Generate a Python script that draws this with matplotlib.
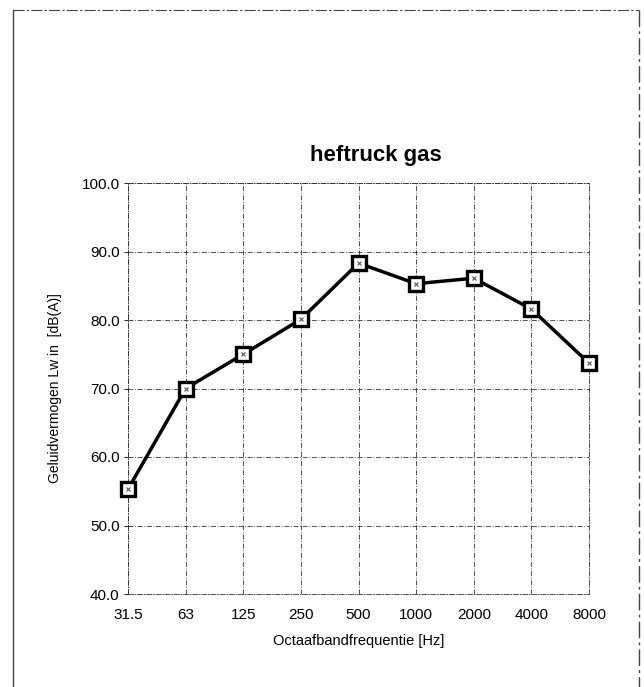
import matplotlib
matplotlib.use("Agg")
import matplotlib.pyplot as plt
from matplotlib.lines import Line2D

# octave band data
freqs = ["31.5", "63", "125", "250", "500", "1000", "2000", "4000", "8000"]
levels = [55.3, 70.0, 75.0, 80.1, 88.3, 85.3, 86.1, 81.6, 73.7]
yticks = [40, 50, 60, 70, 80, 90, 100]

plt.rcParams['font.family'] = ['Liberation Sans', 'DejaVu Sans']

fig = plt.figure(figsize=(6.44, 6.87), dpi=100)
ax = fig.add_axes([128/644, 1-594/687, 461/644, 411/687])

x = list(range(len(freqs)))
ax.plot(x, levels, color='black', linewidth=2.5, marker='s', markersize=10.5,
        markerfacecolor='white', markeredgecolor='black', markeredgewidth=2.4,
        zorder=3, clip_on=False)
ax.plot(x, levels, linestyle='none', marker='x', markersize=3,
        color='#555555', markeredgewidth=0.8, zorder=4, clip_on=False)

ax.set_xlim(0, len(freqs) - 1)
ax.set_ylim(40, 100)
ax.set_xticks(x)
ax.set_xticklabels(freqs, fontsize=11)
ax.set_yticks(yticks)
ax.set_yticklabels(["%.1f" % v for v in yticks], fontsize=11)
ax.tick_params(axis='x', length=0, pad=10)
ax.tick_params(axis='y', length=3, width=0.6, pad=3)

ax.grid(True, color='#333333', linestyle=(0, (6, 2, 1, 2)), linewidth=0.6)
for s in ax.spines.values():
    s.set_color('#333333')
    s.set_linewidth(0.6)
    s.set_linestyle((0, (6, 2, 1, 2)))

ax.set_xlabel("Octaafbandfrequentie [Hz]", fontsize=10.5, labelpad=9)
ax.set_ylabel("Geluidvermogen Lw in  [dB(A)]", fontsize=10, labelpad=14)

fig.text(376/644, 1-155/687, "heftruck gas", fontsize=16, fontweight='bold',
         ha='center', va='center')

# page frame
bx0, bx1, by = 13/644, 639/644, 1-10/687
fig.add_artist(Line2D([bx0, bx1], [by, by], color='#444444', linewidth=0.8,
                      linestyle=(0, (10, 2, 2, 2))))
fig.add_artist(Line2D([bx0, bx0], [by, 0], color='#444444', linewidth=1.0))
fig.add_artist(Line2D([bx1, bx1], [by, 0], color='#444444', linewidth=1.0,
                      linestyle=(0, (12, 3, 2, 3))))

fig.savefig("out.png", dpi=100)
